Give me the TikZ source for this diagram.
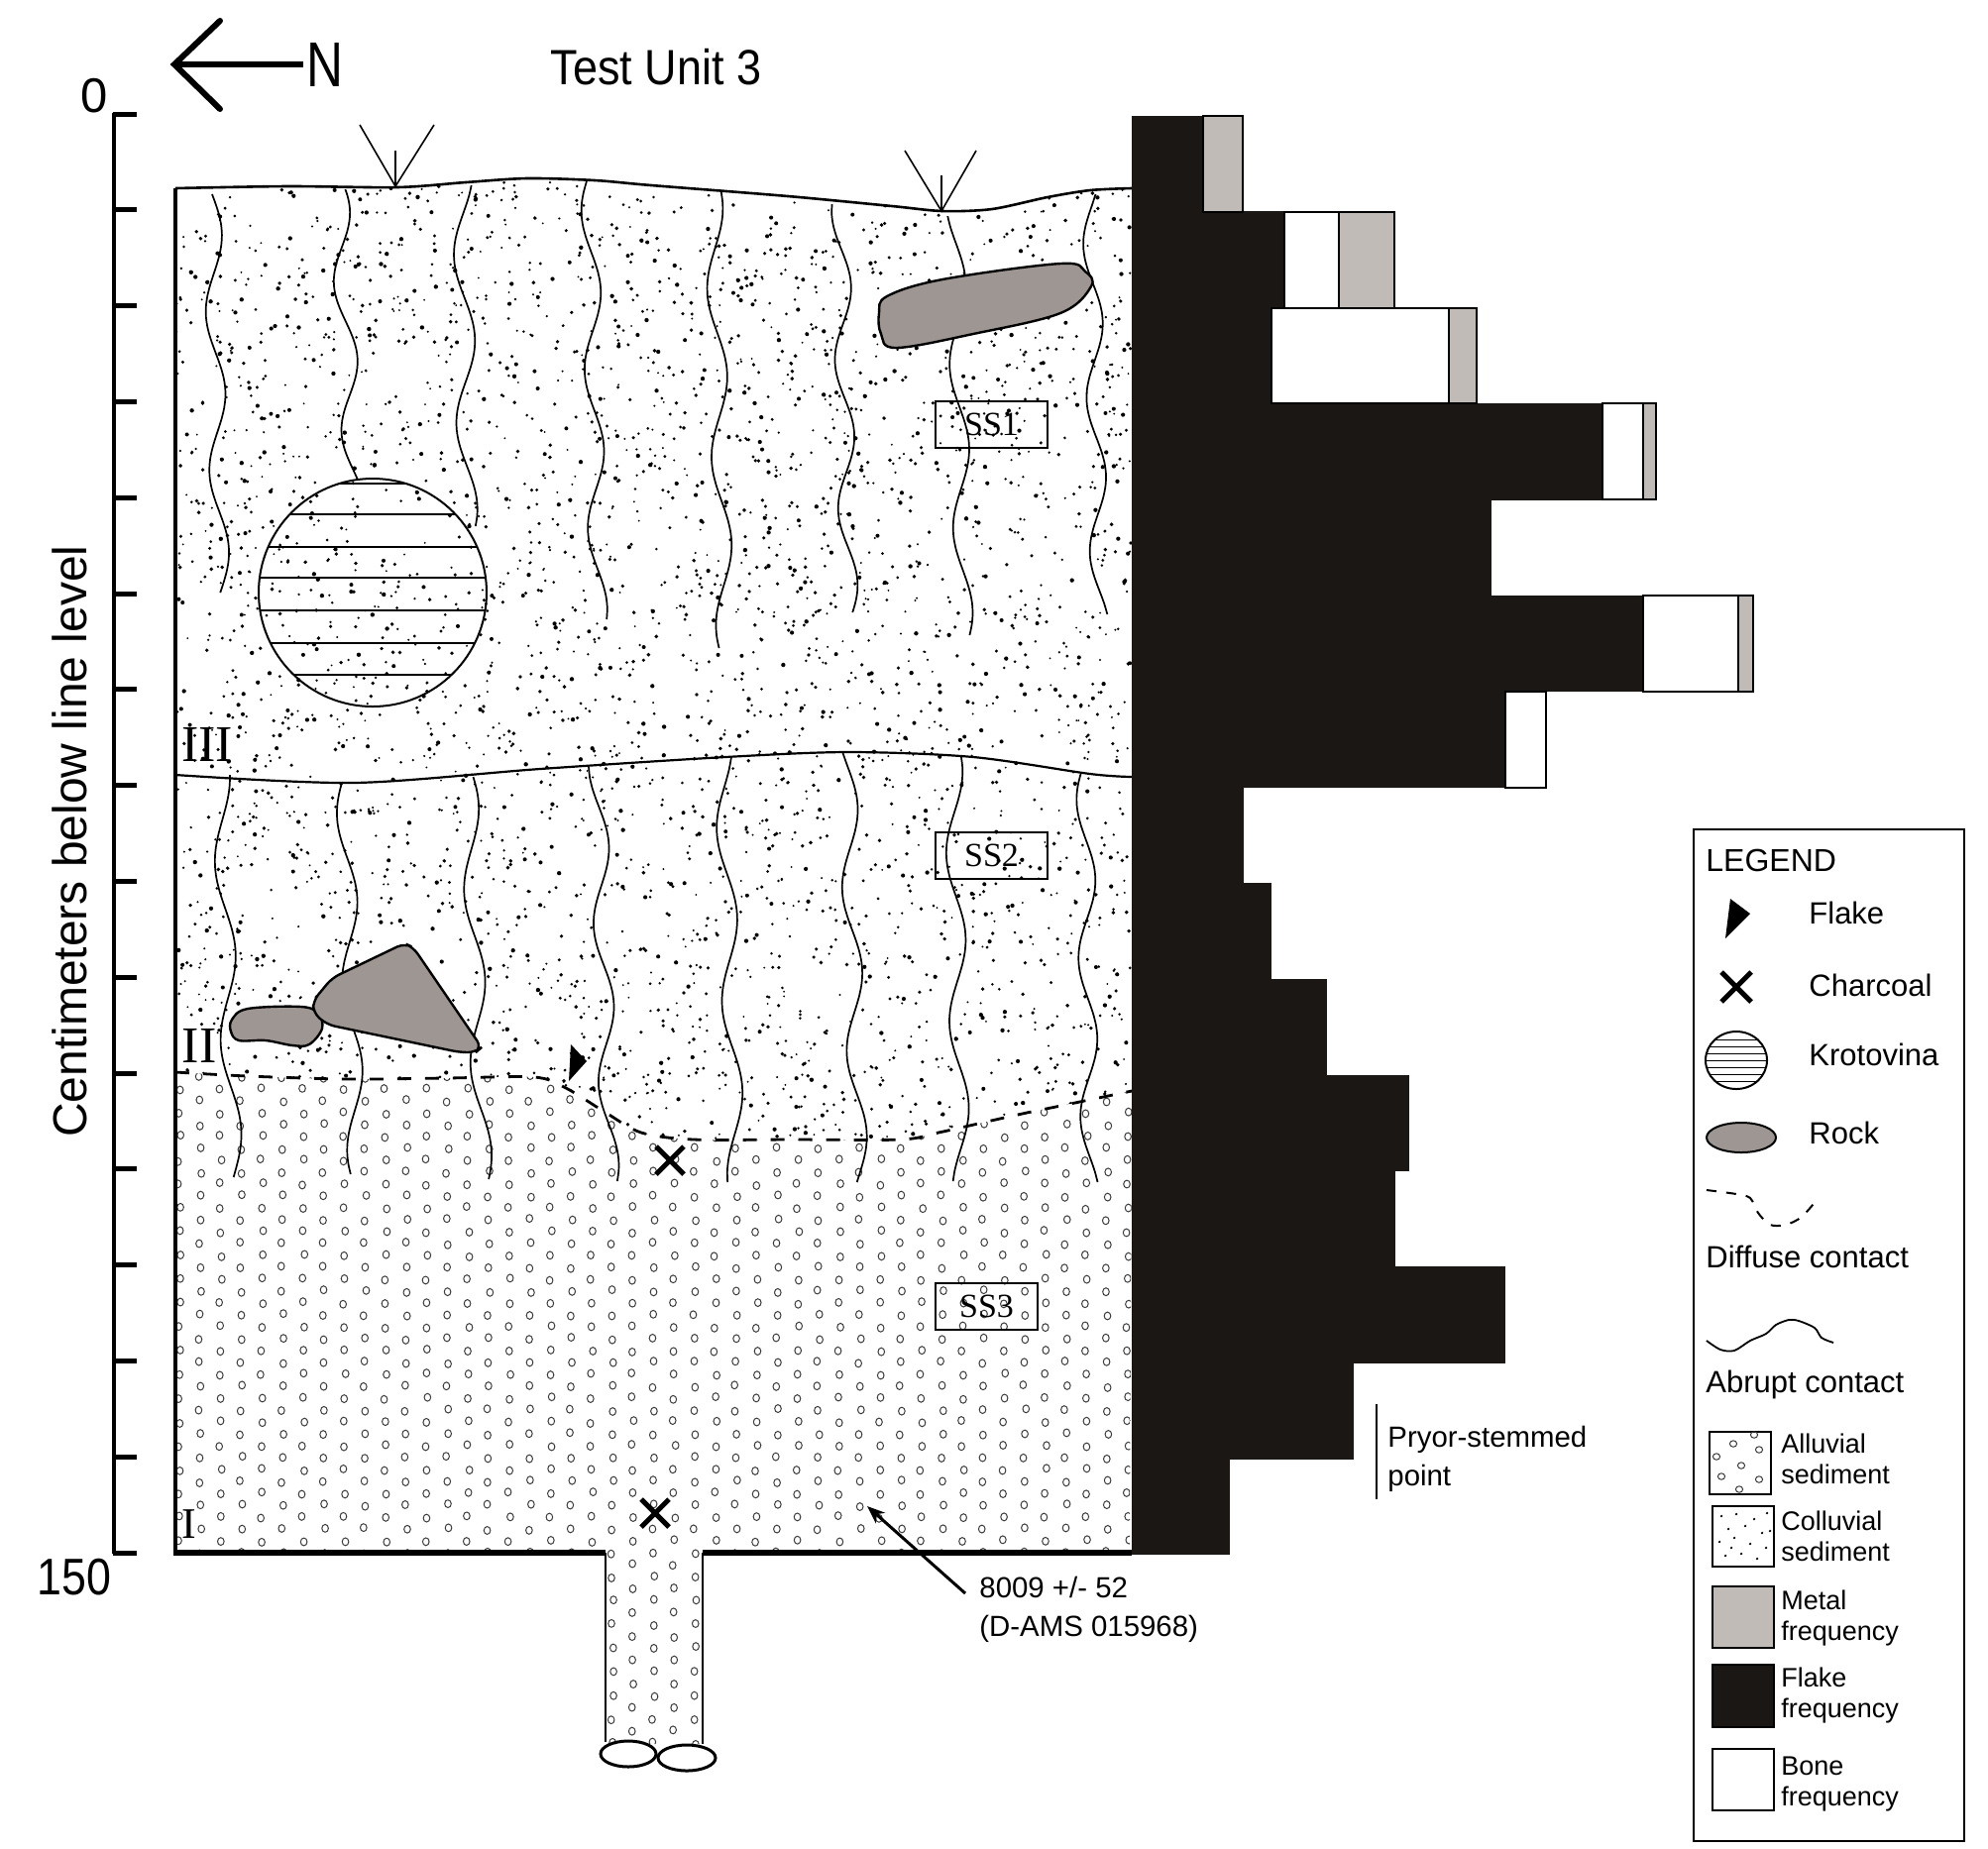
\documentclass[tikz,border=0pt]{standalone}
\usepackage{fontspec}
\usepackage{graphicx}
\setmainfont{Liberation Sans}
\newfontfamily\serifL{Liberation Serif}
\usetikzlibrary{arrows.meta}
\definecolor{rockgray}{RGB}{158,150,146}
\definecolor{metalgray}{RGB}{193,187,183}
\definecolor{flakeblack}{RGB}{26,23,21}
\definecolor{circgray}{RGB}{60,60,60}
\tikzset{
  crack/.style={line width=0.85pt, black},
  contact/.style={line width=1.1pt, black},
  rockshape/.style={fill=rockgray, draw=black, line width=1.2pt},
  ssbox/.style={draw=black, line width=1pt, inner sep=0pt, minimum height=23.5pt,
     font=\serifL\fontsize{17}{20}\selectfont},
  roman/.style={inner sep=0pt, font=\serifL\fontsize{26}{30}\selectfont},
  legtext/.style={anchor=west, inner sep=0pt, font=\fontsize{15.5}{18}\selectfont},
  legsmall/.style={anchor=west, inner sep=0pt, align=left, font=\fontsize{13.5}{15.5}\selectfont},
  legbox/.style={draw=black, line width=1pt},
  notetext/.style={inner sep=0pt, align=left, font=\fontsize{14.7}{19.5}\selectfont},
  charmark/.style={line width=2.5pt, black},
  barbox/.style={draw=black, line width=1pt},
}
% wavy crack line: x1, x2, y1, y2, amplitude, period, phase
\newcommand\wline[7]{\draw[crack] plot[domain=#3:#4, samples=40, smooth]
  ({#1+(#2-#1)*((\x-#3)/(#4-#3))+#5*sin((\x-#3)/#6*360+#7)},\x);}
% charcoal cross: x, y, half size
\newcommand\charx[3]{\draw[charmark] ({#1-#3},{#2-#3}) -- ({#1+#3},{#2+#3})
  ({#1-#3},{#2+#3}) -- ({#1+#3},{#2-#3});}
\begin{document}
\begin{tikzpicture}[x=0.5pt,y=-0.5pt]
\useasboundingbox (0,0) rectangle (2006,1865);
\fill[white] (0,0) rectangle (2006,1865);

% ---------- colluvial stipple ----------
\begin{scope}
\clip plot[smooth] coordinates {(177,190) (290,188) (401,189) (470,184) (532,180) (600,182) (657,187) (795,198) (900,208) (951,213) (1001,211) (1057,199) (1100,192) (1142,190)}
 -- plot[smooth, tension=0.5] coordinates {(1142,1101) (1075,1115) (1036,1123) (1000,1131) (947,1143) (909,1150) (800,1150) (700,1150) (647,1143) (610,1122) (571,1098) (539,1087) (450,1088) (350,1089) (250,1086) (177,1082)} -- cycle;
\pgfmathsetseed{4242}
\foreach \i in {1,...,3800}{
  \pgfmathsetmacro\px{177+965*rnd}
  \pgfmathsetmacro\py{175+980*rnd}
  \pgfmathsetmacro\pr{1.0+1.2*rnd}
  \fill (\px,\py) circle[radius=\pr];
}
\end{scope}

% ---------- alluvial circles ----------
\begin{scope}
\clip plot[smooth, tension=0.5] coordinates {(177,1082) (250,1086) (350,1089) (450,1088) (539,1087) (571,1098) (610,1122) (647,1143) (700,1150) (800,1150) (909,1150) (947,1143) (1000,1131) (1036,1123) (1075,1115) (1142,1101)}
 -- (1140,1567) -- (709,1567) -- (709,1760) -- (611,1760) -- (611,1567) -- (177,1567) -- cycle;
\foreach \c in {0,...,46}{
  \foreach \r in {0,...,29}{
    \pgfmathsetmacro\cx{181+20.8*\c+3*(rnd-0.5)}
    \pgfmathsetmacro\cy{1075+24*\r+12*mod(\c,2)+3*(rnd-0.5)}
    \draw[circgray, line width=0.5pt] (\cx,\cy) ellipse[x radius=3.3, y radius=3.9];
  }
}
\end{scope}

% ---------- cracks, layer III ----------
\wline{214}{223}{196}{598}{9}{160}{0}
\wline{342}{357}{191}{484}{10}{150}{40}
\wline{467}{472}{187}{531}{10}{170}{120}
\wline{595}{604}{183}{625}{9}{160}{200}
\wline{720}{732}{194}{654}{9}{170}{60}
\wline{848}{857}{206}{618}{9}{150}{250}
\wline{964}{973}{218}{641}{9}{165}{300}
\wline{1101}{1110}{196}{620}{9}{155}{150}
% ---------- cracks, layer II ----------
\wline{223}{236}{782}{1188}{9}{180}{90}
\wline{348}{360}{790}{1185}{9}{170}{200}
\wline{473}{488}{784}{1190}{9}{175}{30}
\wline{603}{616}{774}{1192}{9}{160}{270}
\wline{730}{743}{765}{1193}{9}{175}{120}
\wline{855}{867}{760}{1193}{9}{165}{330}
\wline{962}{970}{763}{1192}{9}{170}{60}
\wline{1095}{1100}{781}{1193}{9}{160}{210}

% ---------- krotovina ----------
\begin{scope}
\clip (376,598) circle[radius=115];
\foreach \yy in {488,519,552,583,616,649,681}{
  \draw[line width=1.4pt] (255,\yy) -- (500,\yy);
}
\end{scope}
\draw[line width=1pt] (376,598) circle[radius=115];

% ---------- rocks ----------
\draw[rockshape] plot[smooth cycle, tension=0.6] coordinates {(887,316) (895,299) (951,282) (1070,266) (1095,274) (1101,289) (1070,316) (982,337) (904,351) (889,337)};
\draw[rockshape] plot[smooth cycle, tension=0.6] coordinates {(234,1029) (250,1018) (304,1016) (321,1023) (325,1038) (312,1054) (295,1055) (268,1050) (241,1050) (233,1041)};
\draw[rockshape, rounded corners=4pt] (316,1010) -- (335,987) -- (408,952) -- (417,956) -- (486,1057) -- (480,1062) -- (464,1062) -- (330,1034) -- (316,1022) -- cycle;

% ---------- contacts ----------
\draw[line width=1.3pt] plot[smooth] coordinates {(177,190) (290,188) (401,189) (470,184) (532,180) (600,182) (657,187) (795,198) (900,208) (951,213) (1001,211) (1057,199) (1100,192) (1142,190)};
\draw[contact] plot[smooth] coordinates {(177,782) (357,790) (545,776) (732,764) (857,759) (982,764) (1100,781) (1142,784)};
\draw[line width=1.4pt, dash pattern=on 7pt off 7pt] plot[smooth, tension=0.5] coordinates {(177,1082) (250,1086) (350,1089) (450,1088) (539,1087) (571,1098) (610,1122) (647,1143) (700,1150) (800,1150) (909,1150) (947,1143) (1000,1131) (1036,1123) (1075,1115) (1142,1101)};

% ---------- profile outline ----------
\draw[line width=2pt] (177,190) -- (177,1567);
\draw[line width=2.8pt] (175,1567) -- (611,1567);
\draw[line width=2.8pt] (709,1567) -- (1142,1567);
\draw[line width=1pt] (611,1567) -- (611,1758);
\draw[line width=1pt] (709,1567) -- (709,1760);
\draw[line width=1.5pt] (634,1770) ellipse[x radius=28, y radius=13];
\draw[line width=1.5pt] (693,1774) ellipse[x radius=29, y radius=13];

% ---------- surface markers ----------
\draw[line width=0.8pt] (363,126) -- (399,188) -- (438,126) (399,152) -- (399,188);
\draw[line width=0.8pt] (913,152) -- (950,213) -- (985,152) (950,177) -- (950,213);

% ---------- finds ----------
\fill (576,1054) -- (592,1071) -- (574,1091) -- cycle;
\charx{676}{1171}{14}
\charx{661}{1527}{14}

% ---------- labels in profile ----------
\node[ssbox, minimum width=56.5pt] (ss1) at (1000.5,428.5) {SS1};
\node[ssbox, minimum width=56.5pt] (ss2) at (1000.5,863) {SS2};
\node[ssbox, minimum width=51.5pt] (ss3) at (995.5,1318.5) {SS3};
\node[roman] (rIII) at (209,751) {III};
\node[roman] (rII) at (201,1055) {II};
\node[roman, font=\serifL\fontsize{22}{26}\selectfont] (rI) at (191,1538) {I};

% ---------- histogram ----------
\foreach \k/\b in {1/1214,2/1296,3/1283,4/1617,5/1505,6/1658,7/1519,8/1255,9/1283,10/1339,11/1422,12/1408,13/1519,14/1366,15/1241}{
  \fill[flakeblack] (1142,{117+96.8*(\k-1)-0.4}) rectangle (\b,{117+96.8*\k+0.4});
}
\foreach \k/\a/\b in {2/1296/1351,3/1283/1462,4/1617/1658,6/1658/1754,7/1519/1560}{
  \draw[barbox, fill=white] (\a,{117+96.8*(\k-1)}) rectangle (\b,{117+96.8*\k});
}
\foreach \k/\a/\b in {1/1214/1254,2/1351/1407,3/1462/1490,4/1658/1671,6/1754/1769}{
  \draw[barbox, fill=metalgray] (\a,{117+96.8*(\k-1)}) rectangle (\b,{117+96.8*\k});
}

% ---------- axis ----------
\draw[line width=2pt] (115,114) -- (115,1568);
\foreach \k in {0,...,15}{
  \draw[line width=2.5pt] (114,{115+96.8*\k}) -- (138,{115+96.8*\k});
}
\node[inner sep=0pt, font=\fontsize{24.5}{28}\selectfont] (zero) at (95,97) {0};
\node[inner sep=0pt, font=\fontsize{26}{30}\selectfont] (onefifty) at (75,1592) {\scalebox{0.86}[1]{150}};
\node[inner sep=0pt, rotate=90, font=\fontsize{24}{28}\selectfont] (axislabel) at (70,849) {Centimeters below line level};

% ---------- title and north arrow ----------
\node[inner sep=0pt, font=\fontsize{25}{30}\selectfont] (title) at (662,68) {\scalebox{0.9}[1]{Test Unit 3}};
\node[inner sep=0pt, font=\fontsize{32}{36}\selectfont] (north) at (328,65) {\scalebox{0.8}[1]{N}};
\coordinate (ntip) at (176,65);
\coordinate (ntail) at (306,65);
\coordinate (nup) at (222,21);
\coordinate (ndown) at (222,110);
\draw[line width=3pt, line cap=round] (nup) -- (ntip) -- (ndown);
\draw[line width=3pt] (ntip) -- (ntail);

% ---------- date annotation ----------
\node[notetext, anchor=north west] (date) at (988,1591) {8009 +/- 52\\(D-AMS 015968)};
\coordinate (datestart) at (974,1608);
\coordinate (datetip) at (875,1520);
\draw[line width=1.5pt, -{Stealth[length=9pt, width=7pt]}] (datestart) -- (datetip);

% ---------- Pryor-stemmed point ----------
\coordinate (pryortop) at (1389,1417);
\coordinate (pryorbot) at (1389,1513);
\draw[line width=1pt] (pryortop) -- (pryorbot);
\node[notetext, anchor=north west] (pryor) at (1400,1439) {Pryor-stemmed\\point};

% ---------- legend ----------
\draw[line width=1pt] (1709,837) rectangle (1982,1858);
\node[legtext, font=\fontsize{16}{19}\selectfont] (leghead) at (1721,868) {LEGEND};
\fill (1746,907) -- (1766,922) -- (1741,947) -- cycle;
\node[legtext] (legflake) at (1825,921) {Flake};
\charx{1752}{996}{15}
\node[legtext] (legchar) at (1825,994) {Charcoal};
\begin{scope}
\clip (1752,1070) ellipse[x radius=31, y radius=29];
\foreach \yy in {1049,1056,...,1091}{
  \draw[line width=0.4pt] (1718,\yy) -- (1786,\yy);
}
\end{scope}
\draw[line width=1pt] (1752,1070) ellipse[x radius=31, y radius=29];
\node[legtext] (legkrot) at (1825,1064) {Krotovina};
\draw[rockshape, line width=1pt] (1757,1148) ellipse[x radius=35, y radius=15];
\node[legtext] (legrock) at (1825,1143) {Rock};
\draw[line width=1pt, dash pattern=on 5pt off 5pt] plot[smooth] coordinates {(1722,1201) (1752,1205) (1766,1209) (1774,1224) (1786,1236) (1802,1236) (1818,1228) (1834,1210)};
\node[legtext] (legdiff) at (1721,1268) {Diffuse contact};
\draw[line width=0.9pt] plot[smooth] coordinates {(1722,1353) (1736,1362) (1750,1363) (1766,1353) (1782,1346) (1792,1337) (1805,1332) (1815,1333) (1831,1340) (1838,1350) (1850,1355)};
\node[legtext] (legabr) at (1721,1397) {Abrupt contact};

\draw[legbox, fill=white] (1725,1445) rectangle (1787,1508);
\foreach \cx/\cy in {1749/1457,1775/1463,1732/1470,1757/1479,1737/1490,1775/1493,1755/1503,1770/1448}{
  \draw[circgray, line width=0.5pt] (\cx,\cy) ellipse[x radius=3.6, y radius=3.2];
}
\node[legsmall] (legall) at (1797,1472) {Alluvial\\sediment};
\draw[legbox, fill=white] (1728,1520) rectangle (1790,1581);
\foreach \cx/\cy in {1737/1530,1752/1528,1770/1533,1783/1527,1744/1543,1761/1540,1778/1547,1735/1556,1750/1552,1766/1558,1782/1562,1741/1570,1757/1568,1773/1573,1786/1545,1747/1562}{
  \fill (\cx,\cy) circle[radius=1.3];
}
\node[legsmall] (legcol) at (1797,1550) {Colluvial\\sediment};
\draw[legbox, fill=metalgray] (1728,1601) rectangle (1790,1663);
\node[legsmall] (legmet) at (1797,1633) {Metal\\frequency};
\draw[legbox, fill=flakeblack] (1728,1680) rectangle (1790,1743);
\node[legsmall] (legflk) at (1797,1711) {Flake\\frequency};
\draw[legbox, fill=white] (1728,1765) rectangle (1790,1827);
\node[legsmall] (legbone) at (1797,1800) {Bone\\frequency};
\end{tikzpicture}
\end{document}
